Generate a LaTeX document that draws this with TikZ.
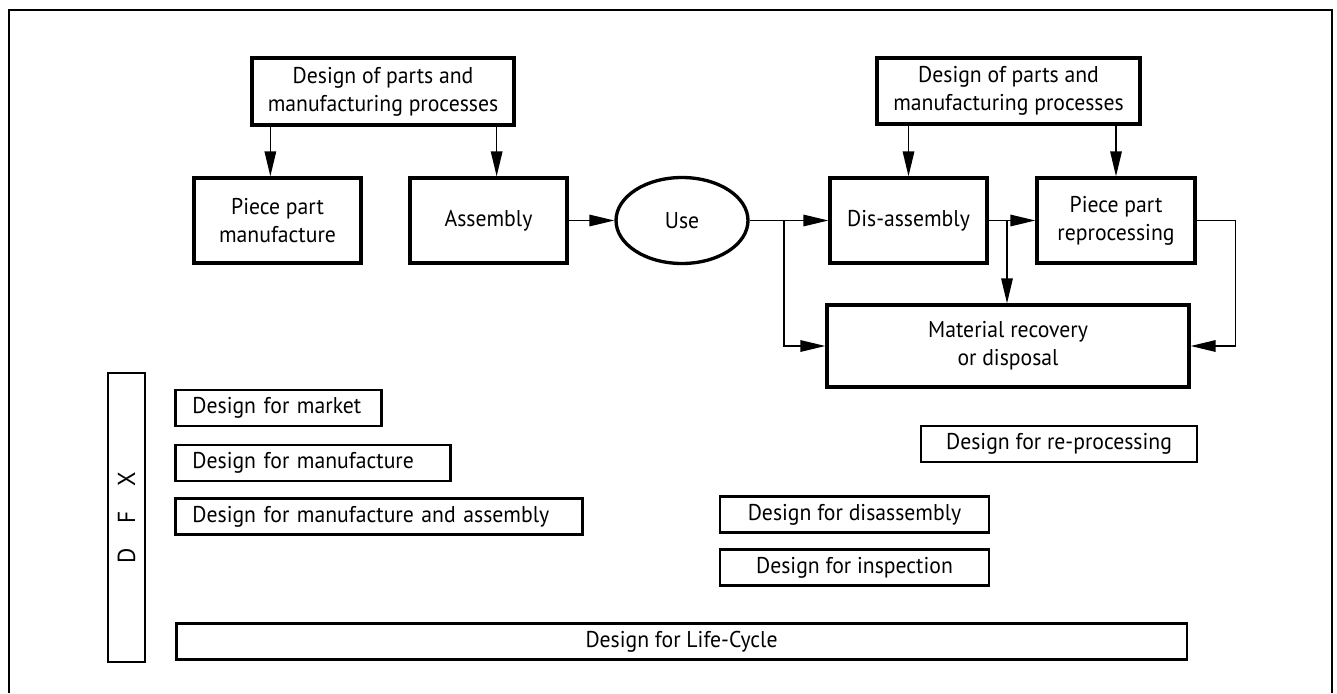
\documentclass[tikz,border=0pt]{standalone}
\usepackage{fontspec}
\setmainfont{PT Sans}[FakeStretch=0.95]
\usetikzlibrary{arrows.meta,shapes.geometric}

\tikzset{
	block/.style={draw,line width=1.9pt,align=center,inner sep=0pt},
	arr/.style={line width=0.9pt,-{Triangle[length=0.5cm,width=0.23cm]}},
	dfxbox/.style={draw,line width=1.6pt,anchor=west,align=left,inner xsep=0.34cm,inner ysep=0pt,minimum height=0.72cm},
	cbox/.style={draw,line width=1.6pt,inner sep=0pt,minimum height=0.72cm}
}

\begin{document}
\begin{tikzpicture}[x=0.02cm,y=-0.02cm,font=\fontsize{13pt}{16pt}\selectfont]
	\useasboundingbox (0,0) rectangle (1337,693);
	\draw[line width=1.4pt] (9,693) -- (9,10) -- (1332,10) -- (1332,693);

	% life cycle chain
	\node[block,minimum width=5.24cm,minimum height=1.34cm] (topL) at (383,91.5) {Design of parts and\\manufacturing processes};
	\node[block,minimum width=3.34cm,minimum height=1.7cm] (piece) at (277.5,220.5) {Piece part\\manufacture};
	\node[block,minimum width=3.14cm,minimum height=1.7cm] (asm) at (488.5,220.5) {Assembly};
	\node[block,ellipse,minimum width=2.64cm,minimum height=1.72cm] (use) at (682,220.5) {Use};
	\node[block,minimum width=5.26cm,minimum height=1.32cm] (topR) at (1008.5,91) {Design of parts and\\manufacturing processes};
	\node[block,minimum width=3.14cm,minimum height=1.7cm] (dis) at (908.5,220.5) {Dis-assembly};
	\node[block,minimum width=3.16cm,minimum height=1.7cm] (repr) at (1116,220.5) {Piece part\\reprocessing};
	\node[block,minimum width=7.24cm,minimum height=1.64cm] (mat) at (1008,346) {Material recovery\\or disposal};

	\draw[arr] ([xshift=0.4cm]topL.south west) -- ([xshift=0.4cm]topL.south west |- piece.north);
	\draw[arr] ([xshift=-0.38cm]topL.south east) -- ([xshift=-0.38cm]topL.south east |- asm.north);
	\draw[arr] (asm) -- (use);
	\draw[arr] (dis.north |- topR.south) -- (dis.north);
	\draw[arr] (repr.north |- topR.south) -- (repr.north);
	\draw[arr] (use) -- (dis);
	\draw[arr] (dis) -- (repr);
	\coordinate (b1) at (784,220.5);
	\coordinate (b2) at (1007,220.5);
	\draw[arr] (b1) |- (mat.west);
	\draw[arr] (b2) -- (b2 |- mat.north);
	\draw[arr] (repr.east) -- ++(0.78cm,0) |- (mat.east);

	% DFX
	\node[draw,line width=1.6pt,minimum width=0.74cm,minimum height=5.78cm] (dfx) at (126.5,517.5) {};
	\node[rotate=90,font=\fontsize{14pt}{16pt}\selectfont] (dfxt) at (dfx) {D\quad F\quad X};
	\foreach \n/\y/\w/\t in {mkt/408/3.44cm/Design for market,mfg/463/4.82cm/Design for manufacture,mfa/516.5/7.46cm/Design for manufacture and assembly} {
		\node[dfxbox,text width=\w] (\n) at (174,\y) {\mbox{\t}};
	}
	\node[cbox,minimum width=5.52cm] (repro) at (1059,444) {Design for re-processing};
	\node[cbox,minimum width=5.38cm] (disasm) at (854.5,514.5) {Design for disassembly};
	\node[cbox,minimum width=5.38cm] (insp) at (854.5,567.5) {Design for inspection};
	\node[cbox,minimum width=20.22cm] (life) at (681.5,641.5) {Design for Life-Cycle};
\end{tikzpicture}
\end{document}
